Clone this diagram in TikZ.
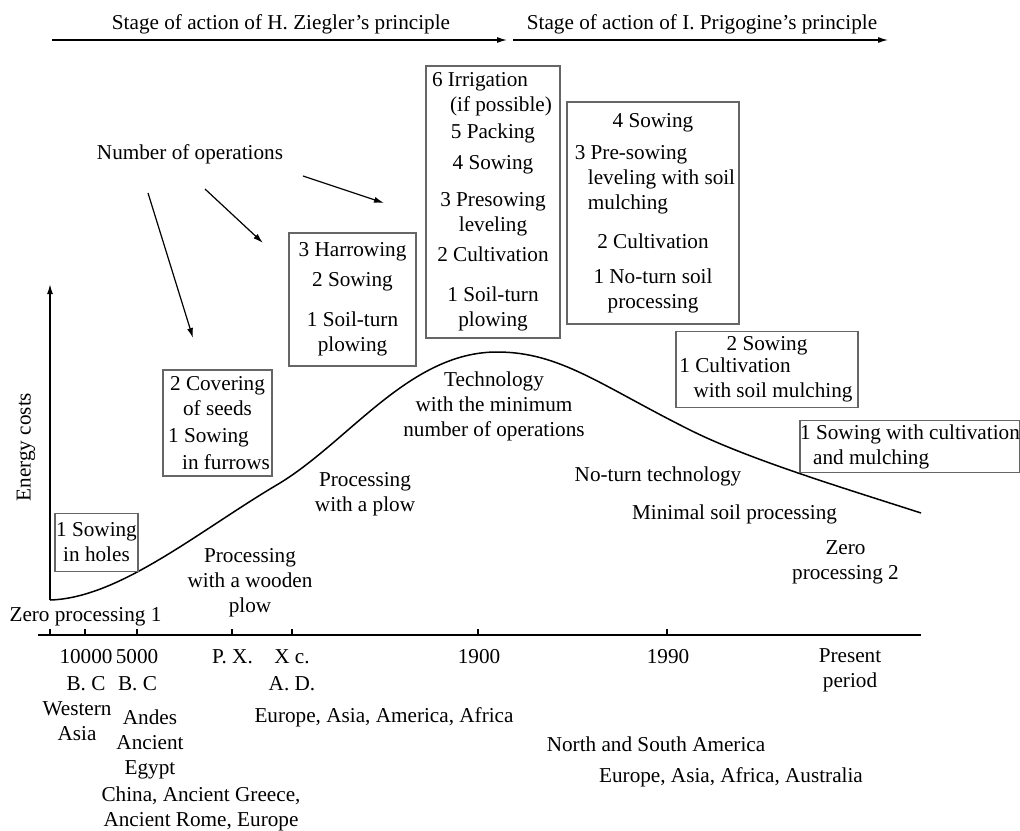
\documentclass[tikz,border=0pt]{standalone}
\usepackage{fontspec}
\setmainfont{Liberation Serif}
\usetikzlibrary{arrows.meta, positioning}

\begin{document}
\begin{tikzpicture}[x=0.5pt, y=-0.5pt,
    every node/.style={font=\fontsize{10.6}{12.5}\selectfont, inner sep=0pt},
    lbl/.style={align=center},
    opbox/.style={draw=black!60, line width=0.8pt, align=center},
    arr/.style={line width=0.6pt, -{Latex[length=5pt, width=3pt]}}]

        \useasboundingbox (0,0) rectangle (1020,830);

        % Stages at the top
        \coordinate (z_0) at (52,40);
        \coordinate (z_1) at (507,40);
        \coordinate (p_0) at (513,40);
        \coordinate (p_1) at (888,40);
        \node[lbl] (zieg) at (281,24) {Stage of action of H. Ziegler's principle};
        \node[lbl] (prig) at (702,24) {Stage of action of I. Prigogine's principle};
        \draw[arr] (z_0) -- (z_1);
        \draw[arr] (p_0) -- (p_1);

        % Axes
        \coordinate (x_l) at (38,635);
        \coordinate (x_r) at (921,635);
        \coordinate (y_o) at (50,600);
        \coordinate (y_t) at (50,284);
        \draw[line width=0.75pt] (x_l) -- (x_r);
        \draw[arr, line width=0.75pt] (y_o) -- (y_t);
        \foreach \tx in {50,85,137,232,292,478,667}
            \draw[line width=0.6pt] (\tx,635) -- (\tx,629);
        \node[rotate=90] (energy) at (26,447) {Energy costs};

        % Energy curve
        \coordinate (c_top) at (497,352);
        \coordinate (c_end) at (921,513);
        \draw[line width=0.75pt] (y_o)
            .. controls (120,598) and (200,530) .. (280,483)
            .. controls (350,440) and (410,352) .. (c_top)
            .. controls (560,352) and (600,385) .. (690,430)
            .. controls (750,460) and (850,490) .. (c_end);

        % Number of operations
        \node[lbl] (ops) at (190,154) {Number of operations};
        \coordinate (o_1) at (148,193);
        \coordinate (o_1e) at (193,338);
        \coordinate (o_2) at (205,189);
        \coordinate (o_2e) at (263,243);
        \coordinate (o_3) at (303,176);
        \coordinate (o_3e) at (384,203);
        \draw[arr] (o_1) -- (o_1e);
        \draw[arr] (o_2) -- (o_2e);
        \draw[arr] (o_3) -- (o_3e);

        % Operation boxes
        \node[opbox, minimum width=41.5pt, minimum height=29pt] (b_holes)
            at (96.5,542.5) {1 Sowing\\in holes};
        \node[opbox, minimum width=54.5pt, minimum height=53pt] (b_furrows)
            at (217.5,423) {2 Covering\\of seeds\\[0.8pt]\hspace*{-9pt}1 Sowing\\[0.8pt]\hspace*{8.5pt}in furrows};
        \node[opbox, minimum width=63.5pt, minimum height=66.5pt] (b_harrow)
            at (352.5,299.5) {3 Harrowing\\[2.5pt]2 Sowing\\[7.5pt]1 Soil-turn\\plowing};
        \node[opbox, minimum width=67pt, minimum height=136pt] (b_irrig)
            at (493,202) {\hspace*{-13pt}6 Irrigation\\\hspace*{8pt}(if possible)\\[1pt]5 Packing\\[3pt]4 Sowing\\[6pt]3 Presowing\\leveling\\[2.5pt]2 Cultivation\\[7.5pt]1 Soil-turn\\plowing};
        \node[opbox, minimum width=86pt, minimum height=111pt] (b_noturn)
            at (653,213) {4 Sowing\\[3.5pt]\hspace*{-22pt}3 Pre-sowing\\\hspace*{8.5pt}leveling with soil\\\hspace*{-25pt}mulching\\[7pt]2 Cultivation\\[5pt]1 No-turn soil\\processing};
        \node[opbox, minimum width=91pt, minimum height=38pt] (b_mulch)
            at (767,369.5) {2 Sowing\\[-1.5pt]\hspace*{-32pt}1 Cultivation\\\hspace*{6pt}with soil mulching};
        \node[opbox, align=left, minimum width=109pt, minimum height=26pt] (b_cult)
            at (910,446.5) {1 Sowing with cultivation\\\hspace*{6.5pt}and mulching};

        % Technologies along the curve
        \node[lbl] (zero_1) at (85.5,617) {Zero processing 1};
        \node[lbl] (wplow) at (250,583) {Processing\\with a wooden\\plow};
        \node[lbl] (plow) at (365,494.5) {Processing\\with a plow};
        \node[lbl] (tech) at (494,406) {Technology\\with the minimum\\number of operations};
        \node[lbl] (noturn) at (658,476) {No-turn technology};
        \node[lbl] (minimal) at (734.5,514) {Minimal soil processing};
        \node[lbl] (zero_2) at (845.5,562.5) {Zero\\processing 2};

        % Time axis labels
        \node[lbl] (t_1) at (86,657) {10000};
        \node[lbl] (t_2) at (137,657) {5000};
        \node[lbl] (t_1b) at (86,683.5) {B. C};
        \node[lbl] (t_2b) at (137.5,683.5) {B. C};
        \node[lbl] (t_3) at (232.5,657) {P. X.};
        \node[lbl] (t_4) at (292,657) {X c.};
        \node[lbl] (t_4b) at (292,683.5) {A. D.};
        \node[lbl] (t_5) at (479,657) {1900};
        \node[lbl] (t_6) at (668,657) {1990};
        \node[lbl] (t_7) at (850,670) {Present\\period};

        % Regions
        \node[lbl] (r_wasia) at (77,721.5) {Western\\Asia};
        \node[lbl] (r_andes) at (150,744) {Andes\\Ancient\\Egypt};
        \node[lbl] (r_china) at (201,808.5) {China, Ancient Greece,\\Ancient Rome, Europe};
        \node[lbl] (r_world) at (384,717) {Europe, Asia, America, Africa};
        \node[lbl] (r_amer) at (656,744) {North and South America};
        \node[lbl] (r_eur) at (731,777) {Europe, Asia, Africa, Australia};
\end{tikzpicture}
\end{document}
